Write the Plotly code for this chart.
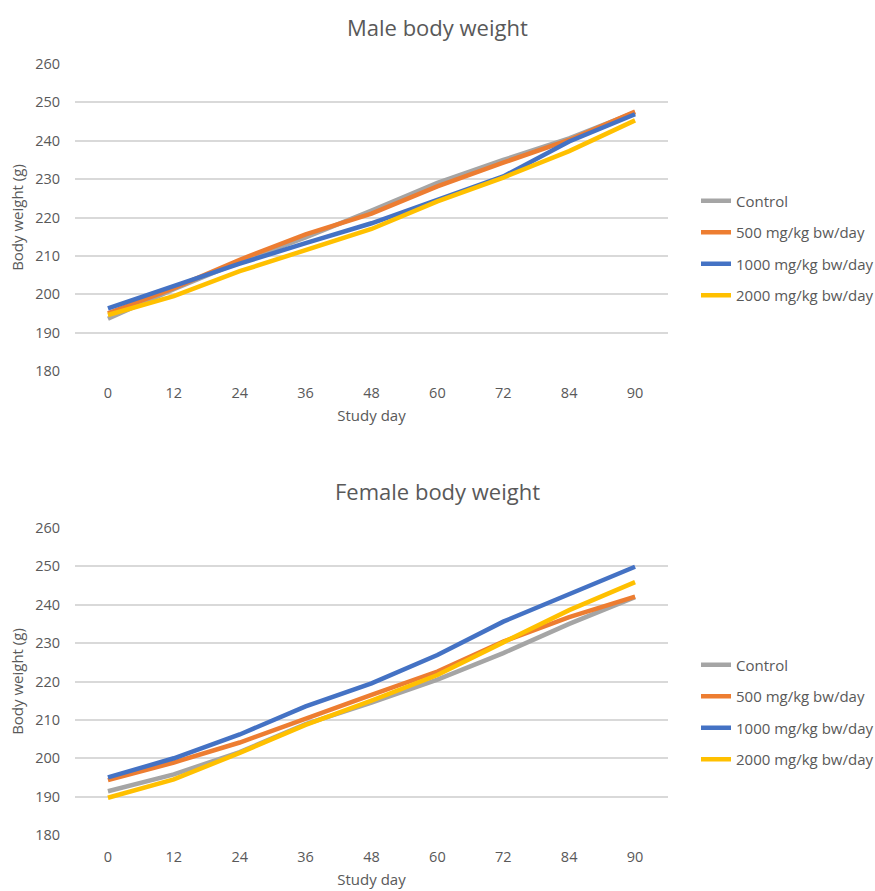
import plotly.graph_objects as go

# Study days (categorical x axis)
days = ["0", "12", "24", "36", "48", "60", "72", "84", "90"]

# Group names
groups = ["Control", "500 mg/kg bw/day", "1000 mg/kg bw/day", "2000 mg/kg bw/day"]
colors = ["#A5A5A5", "#ED7D31", "#4472C4", "#FFC000"]

# Male mean body weight (g)
male_control = [193.6, 201.3, 208.4, 214.8, 221.8, 229.0, 235.0, 240.6, 247.4]
male_500 = [195.0, 201.6, 209.0, 215.6, 221.0, 228.1, 234.3, 240.2, 247.6]
male_1000 = [196.3, 202.0, 208.0, 213.3, 218.5, 224.6, 230.7, 239.8, 246.9]
male_2000 = [194.6, 199.5, 206.0, 211.6, 217.0, 224.2, 230.4, 237.3, 245.3]

# Female mean body weight (g)
female_control = [191.4, 195.8, 201.6, 208.9, 214.5, 220.5, 227.4, 235.0, 242.0]
female_500 = [194.3, 198.9, 204.1, 210.4, 216.5, 222.6, 230.4, 236.8, 242.1]
female_1000 = [195.0, 200.0, 206.2, 213.5, 219.5, 226.9, 235.6, 242.8, 249.9]
female_2000 = [189.7, 194.5, 201.4, 208.7, 215.0, 221.7, 230.2, 238.6, 245.9]

male = [male_control, male_500, male_1000, male_2000]
female = [female_control, female_500, female_1000, female_2000]

FONT = "Open Sans"
TXT = "#595959"
GRID = "#D9D9D9"

fig = go.Figure()

for name, col, vals in zip(groups, colors, male):
    fig.add_trace(go.Scatter(
        x=days, y=vals, name=name, mode="lines",
        line=dict(color=col, width=4.5),
        xaxis="x", yaxis="y", legend="legend", legendgroup="m" + name,
        hoverinfo="skip"))

for name, col, vals in zip(groups, colors, female):
    fig.add_trace(go.Scatter(
        x=days, y=vals, name=name, mode="lines",
        line=dict(color=col, width=4.5),
        xaxis="x2", yaxis="y2", legend="legend2", legendgroup="f" + name,
        hoverinfo="skip"))

W, H = 875, 891
left, right = 75, 668


def ydom(top_px, bot_px):
    return [1 - bot_px / H, 1 - top_px / H]


xax = dict(
    type="category", range=[-0.5, 8.5], showgrid=False, zeroline=False,
    showline=False, ticks="", ticklabelstandoff=11, automargin=False,
    tickfont=dict(family=FONT, size=14.5, color=TXT),
    title=dict(text="Study day", font=dict(family=FONT, size=15, color=TXT), standoff=9),
)
yax = dict(
    range=[180, 260], dtick=10, showgrid=True, gridcolor=GRID, gridwidth=1.5,
    zeroline=False, showline=False, ticks="", ticklabelstandoff=14, automargin=False,
    tickfont=dict(family=FONT, size=14.5, color=TXT),
    title=dict(text="Body weight (g)", font=dict(family=FONT, size=15, color=TXT), standoff=7),
)

legend_common = dict(
    xref="container", yref="container", x=696 / W, xanchor="left",
    yanchor="middle", font=dict(family=FONT, size=15, color=TXT),
    tracegroupgap=9, bgcolor="rgba(0,0,0,0)", itemwidth=30,
)

fig.update_layout(
    width=W, height=H,
    margin=dict(l=left, r=W - right, t=0, b=0),
    paper_bgcolor="white", plot_bgcolor="white",
    showlegend=True,
    xaxis=dict(xax, domain=[0, 1], anchor="y"),
    yaxis=dict(yax, domain=ydom(64, 371), anchor="x"),
    xaxis2=dict(xax, domain=[0, 1], anchor="y2"),
    yaxis2=dict(yax, domain=ydom(528, 835), anchor="x2"),
    legend=dict(legend_common, y=1 - 248 / H),
    legend2=dict(legend_common, y=1 - 712 / H),
    annotations=[
        dict(text="Male body weight", xref="paper", yref="paper",
             x=(W / 2 - left) / (right - left), y=1 - 27 / H,
             xanchor="center", yanchor="middle", showarrow=False,
             font=dict(family=FONT, size=22, color=TXT)),
        dict(text="Female body weight", xref="paper", yref="paper",
             x=(W / 2 - left) / (right - left), y=1 - 491 / H,
             xanchor="center", yanchor="middle", showarrow=False,
             font=dict(family=FONT, size=22, color=TXT)),
    ],
)

fig.write_html("out.html")
